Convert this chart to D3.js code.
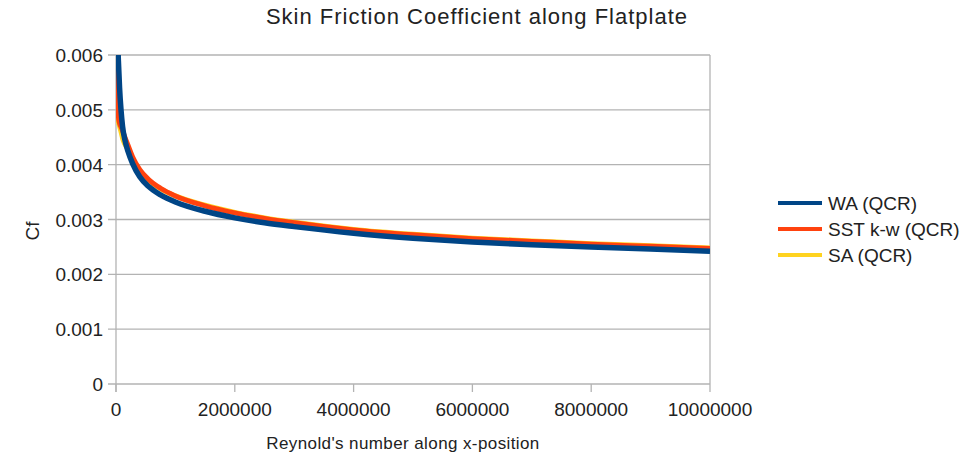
<!DOCTYPE html>
<html>
<head>
<meta charset="utf-8">
<script src="https://cdn.jsdelivr.net/npm/d3@7"></script>
<style>
  html, body { margin: 0; padding: 0; background: #fff; }
  svg { display: block; font-family: "Liberation Sans", Arial, sans-serif; }
</style>
</head>
<body>
<svg id="chart" width="964" height="459"></svg>
<script>
// Reynolds number along x-position and skin friction coefficient for each model
const reWA  = [10000, 20000, 40000, 60000, 84000, 110000, 150000, 200000, 280000, 400000, 550000, 750000, 1000000, 1500000, 2000000, 2500000, 3000000, 4000000, 5000000, 6000000, 7000000, 8000000, 9000000, 10000000];
const cfWA  = [0.0072, 0.0066, 0.0059, 0.0054, 0.0050, 0.0047, 0.00445, 0.00425, 0.00402, 0.00378, 0.00360, 0.00345, 0.00332, 0.00315, 0.00303, 0.00294, 0.00287, 0.00275, 0.00266, 0.00259, 0.00254, 0.00250, 0.00246, 0.00242];

const reSST = [10000, 20000, 30000, 50000, 100000, 150000, 200000, 280000, 400000, 550000, 750000, 1000000, 1500000, 2000000, 2500000, 3000000, 4000000, 5000000, 6000000, 7000000, 8000000, 9000000, 10000000];
const cfSST = [0.0068, 0.0058, 0.0051, 0.0048, 0.00465, 0.00450, 0.00436, 0.00414, 0.00391, 0.00373, 0.00357, 0.00343, 0.00325, 0.00312, 0.00302, 0.00294, 0.00281, 0.00272, 0.00265, 0.00260, 0.00255, 0.00251, 0.00247];

const reSA  = [10000, 40000, 80000, 120000, 200000, 280000, 400000, 550000, 750000, 1000000, 1500000, 2000000, 2500000, 3000000, 4000000, 5000000, 6000000, 7000000, 8000000, 9000000, 10000000];
const cfSA  = [0.0049, 0.00478, 0.00462, 0.00445, 0.00428, 0.00408, 0.00387, 0.00371, 0.00356, 0.00343, 0.00326, 0.00313, 0.00303, 0.00295, 0.00282, 0.00273, 0.00266, 0.00261, 0.00256, 0.00252, 0.00248];

const seriesNames = ["WA (QCR)", "SST k-w (QCR)", "SA (QCR)"];
const xTicks = [0, 2000000, 4000000, 6000000, 8000000, 10000000];
const yTicks = [0, 0.001, 0.002, 0.003, 0.004, 0.005, 0.006];

const colors = { wa: "#004586", sst: "#ff420e", sa: "#ffd320" };

const svg = d3.select("#chart");
const margin = { left: 116, right: 254, top: 55, bottom: 75 };
const W = 964, H = 459;
const x = d3.scaleLinear().domain([0, 10000000]).range([margin.left, W - margin.right]);
const y = d3.scaleLinear().domain([0, 0.006]).range([H - margin.bottom, margin.top]);
const gridColor = "#b3b3b3";
const textColor = "#222";

// Title
svg.append("text")
  .attr("x", 477).attr("y", 24)
  .attr("text-anchor", "middle")
  .attr("font-size", 22)
  .attr("letter-spacing", 1)
  .attr("fill", textColor)
  .text("Skin Friction Coefficient along Flatplate");

// Horizontal gridlines (extend left as tick marks)
svg.append("g").selectAll("line")
  .data(yTicks).join("line")
  .attr("x1", x(0) - 8).attr("x2", x(10000000))
  .attr("y1", d => y(d)).attr("y2", d => y(d))
  .attr("stroke", gridColor).attr("stroke-width", 1.3);

// Plot frame: left axis and right edge
svg.append("line")
  .attr("x1", x(0)).attr("x2", x(0))
  .attr("y1", y(0.006)).attr("y2", y(0) + 8)
  .attr("stroke", gridColor).attr("stroke-width", 1.3);
svg.append("line")
  .attr("x1", x(10000000)).attr("x2", x(10000000))
  .attr("y1", y(0.006)).attr("y2", y(0))
  .attr("stroke", gridColor).attr("stroke-width", 1.3);

// X tick marks
svg.append("g").selectAll("line")
  .data(xTicks).join("line")
  .attr("x1", d => x(d)).attr("x2", d => x(d))
  .attr("y1", y(0)).attr("y2", y(0) + 8)
  .attr("stroke", gridColor).attr("stroke-width", 1.3);

// Tick labels
svg.append("g").selectAll("text")
  .data(xTicks).join("text")
  .attr("x", d => x(d)).attr("y", 416)
  .attr("text-anchor", "middle")
  .attr("font-size", 19).attr("fill", textColor)
  .text(d => String(d));
svg.append("g").selectAll("text")
  .data(yTicks).join("text")
  .attr("x", 103).attr("y", d => y(d) + 7)
  .attr("text-anchor", "end")
  .attr("font-size", 19).attr("fill", textColor)
  .text(d => d === 0 ? "0" : d.toFixed(3));

// Axis titles
svg.append("text")
  .attr("transform", "translate(39,231) rotate(-90)")
  .attr("text-anchor", "middle")
  .attr("font-size", 19).attr("fill", textColor)
  .text("Cf");
svg.append("text")
  .attr("x", 403).attr("y", 449)
  .attr("text-anchor", "middle")
  .attr("font-size", 17)
  .attr("letter-spacing", 0.4)
  .attr("fill", textColor)
  .text("Reynold's number along x-position");

// Series lines, clipped to the plot area
svg.append("clipPath").attr("id", "plotClip")
  .append("rect")
  .attr("x", x(0)).attr("y", y(0.006))
  .attr("width", x(10000000) - x(0)).attr("height", y(0) - y(0.006));

const line = d3.line()
  .x(d => x(d[0])).y(d => y(d[1]))
  .curve(d3.curveMonotoneX);

const plot = svg.append("g").attr("clip-path", "url(#plotClip)");
const series = [
  { re: reSA,  cf: cfSA,  color: colors.sa,  width: 5 },
  { re: reSST, cf: cfSST, color: colors.sst, width: 5 },
  { re: reWA,  cf: cfWA,  color: colors.wa,  width: 5.5 }
];
series.forEach(s => {
  plot.append("path")
    .datum(s.re.map((r, i) => [r, s.cf[i]]))
    .attr("d", line)
    .attr("fill", "none")
    .attr("stroke", s.color)
    .attr("stroke-width", s.width)
    .attr("stroke-linejoin", "round");
});

// Legend
const legendColors = [colors.wa, colors.sst, colors.sa];
const legend = svg.append("g");
seriesNames.forEach((name, i) => {
  const ly = 203 + i * 26;
  legend.append("line")
    .attr("x1", 778).attr("x2", 822)
    .attr("y1", ly).attr("y2", ly)
    .attr("stroke", legendColors[i]).attr("stroke-width", 4);
  legend.append("text")
    .attr("x", 828).attr("y", ly + 7)
    .attr("font-size", 19).attr("fill", textColor)
    .text(name);
});
</script>
</body>
</html>
